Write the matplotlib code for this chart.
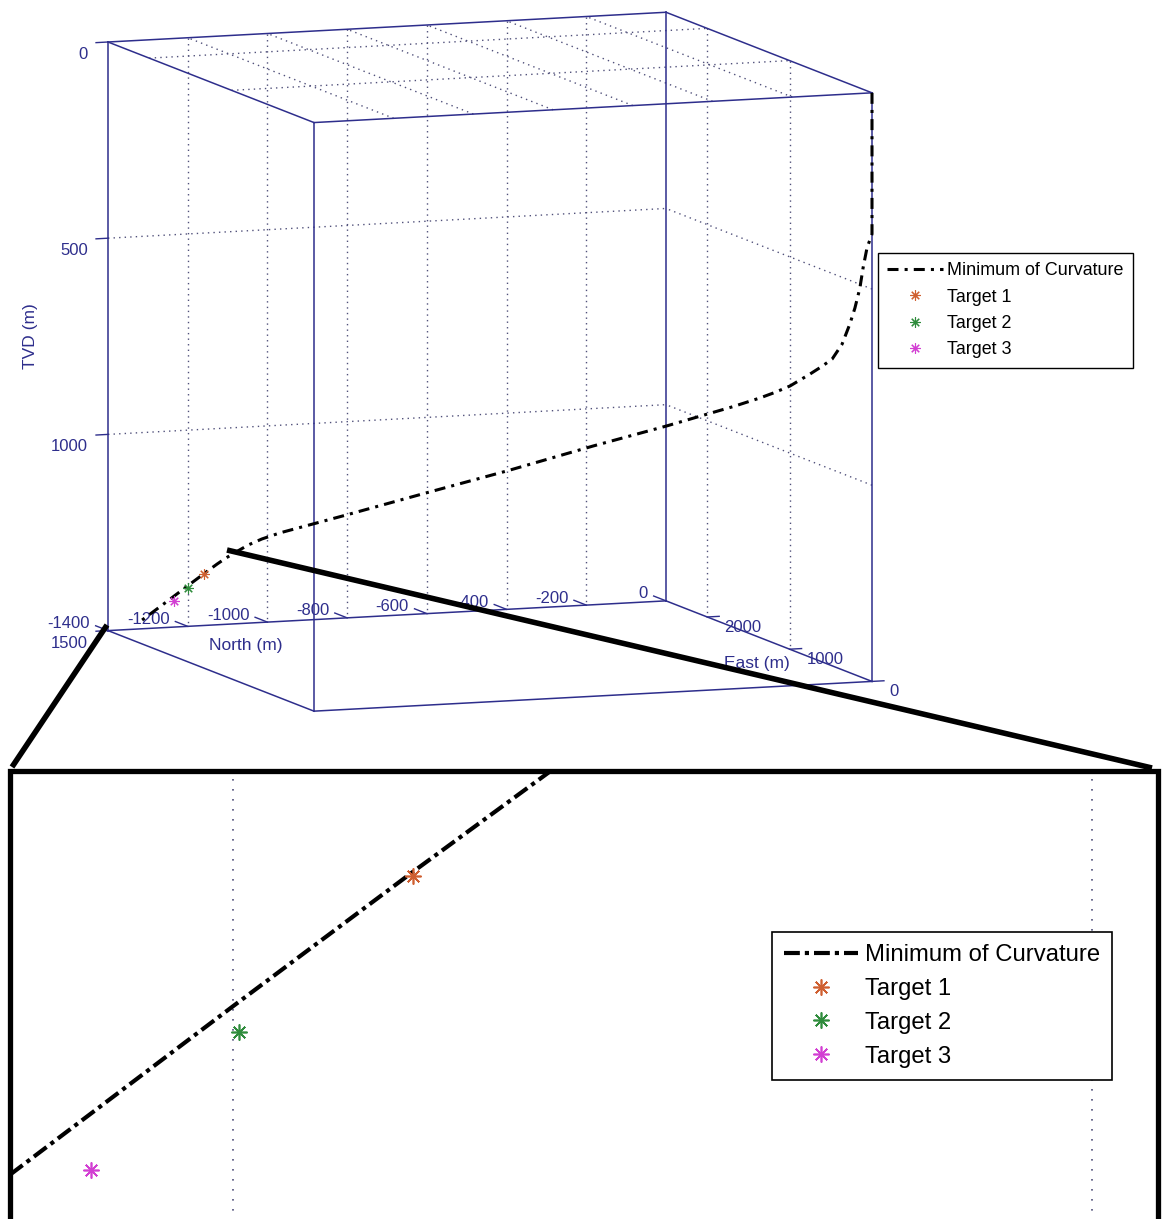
import numpy as np
import matplotlib
matplotlib.use("Agg")
import matplotlib.pyplot as plt
from matplotlib.lines import Line2D
from matplotlib.patches import Rectangle
from matplotlib.transforms import ScaledTranslation

plt.rcParams["font.family"] = ["Liberation Sans", "DejaVu Sans"]

# well path stations, metres
north = [0, 0, -9, -16, -22, -31, -40, -54, -72, -92, -112, -148, -175, -202, -251, -298,
         -370, -504, -659, -803, -948, -1068, -1101, -1126, -1148, -1166, -1182, -1205,
         -1235, -1272, -1303, -1325]
east = [0, 0, 17, 31, 41, 58, 75, 102, 136, 174, 211, 279, 330, 382, 473, 562,
        698, 950, 1243, 1516, 1788, 2016, 2078, 2125, 2166, 2200, 2230, 2273,
        2331, 2400, 2459, 2500]
tvd = [0, 360, 396, 448, 500, 552, 593, 646, 686, 708, 728, 762, 781, 798, 825, 849,
       886, 951, 1030, 1100, 1171, 1229, 1248, 1266, 1286, 1303, 1320, 1346,
       1381, 1424, 1460, 1485]

target_names = ["Target 1", "Target 2", "Target 3"]
target_north = [-1205, -1234, -1259]
target_east = [2273, 2329, 2375]
target_tvd = [1347, 1387, 1422]
target_colors = ["#cf5f30", "#2f8c3c", "#d23fd2"]

north_ticks = [-1400, -1200, -1000, -800, -600, -400, -200, 0]
east_ticks = [0, 1000, 2000]
tvd_ticks = [0, 500, 1000, 1500]
north_lim = (-1400, 0)
east_lim = (0, 2500)
tvd_lim = (0, 1500)

# figure layout, pixels from the top-left corner
FW, FH, DPI = 1162, 1219, 100
ELEV, AZIM = 8.3, -110.26
BOX_LEFT, BOX_TOP, BOX_RIGHT = 108, 42, 872
ZOOM = 10.77
INSET_ANCHOR = (413, 876)
INSET_BOX = (10, 771, 1158, 1221)
LEFT_CONNECTOR = ((107, 625), (12, 767))
RIGHT_CONNECTOR = ((227, 550), (1152, 768))
MAIN_LEGEND_AT = (878, 253)
INSET_LEGEND_AT = (772, 932)

AXIS_COLOR = "#2e2e8c"
GRID_COLOR = "#50507a"

fig = plt.figure(figsize=(FW / DPI, FH / DPI), dpi=DPI)


def fig_frac(x, y):
    return x / FW, 1 - y / FH


def shifted(ax, dx, dy):
    return ax.transData + ScaledTranslation(dx / DPI, dy / DPI, fig.dpi_scale_trans)


def new_3d_axes():
    ax = fig.add_axes([0, 0, 1, 1], projection="3d", proj_type="ortho")
    ax.set_box_aspect((1, 1, 1))
    ax.view_init(elev=ELEV, azim=AZIM)
    ax.set_axis_off()
    ax.set_facecolor("none")
    return ax


def unit_xy(ax, pts):
    # where 3-D points fall inside the square axes, 0..1 each way
    pts = np.asarray(pts, dtype=float)
    vec = np.vstack([pts.T, np.ones(len(pts))])
    w = ax.get_proj() @ vec
    X, Y = w[0] / w[3], w[1] / w[3]
    v = ax.viewLim
    return (X - v.x0) / v.width, (Y - v.y0) / v.height


def put_axes(ax, point, px, side):
    u, w = unit_xy(ax, [point])
    left = px[0] - u[0] * side
    bottom = (FH - px[1]) - w[0] * side
    ax.set_position([left / FW, bottom / FH, side / FW, side / FH])


def draw_grid(ax, lw, dots):
    n0, n1 = north_lim
    e0, e1 = east_lim
    t0, t1 = tvd_lim
    kw = dict(color=GRID_COLOR, lw=lw, ls=(0, dots), zorder=1)
    # floor sits at TVD 0 (top), walls at East max and North 0
    for n in north_ticks[1:-1]:
        ax.plot([n, n], [e0, e1], [t0, t0], **kw)
        ax.plot([n, n], [e1, e1], [t0, t1], **kw)
    for e in east_ticks[1:]:
        ax.plot([n0, n1], [e, e], [t0, t0], **kw)
        ax.plot([n1, n1], [e, e], [t0, t1], **kw)
    for t in tvd_ticks[1:-1]:
        ax.plot([n0, n1], [e1, e1], [t, t], **kw)
        ax.plot([n1, n1], [e0, e1], [t, t], **kw)


def draw_box(ax):
    n0, n1 = north_lim
    e0, e1 = east_lim
    t0, t1 = tvd_lim
    kw = dict(color=AXIS_COLOR, lw=1.1, zorder=2)
    for e in (e0, e1):
        for t in (t0, t1):
            ax.plot([n0, n1], [e, e], [t, t], **kw)
    for n in (n0, n1):
        for t in (t0, t1):
            ax.plot([n, n], [e0, e1], [t, t], **kw)
        for e in (e0, e1):
            ax.plot([n, n], [e, e], [t0, t1], **kw)


def draw_ticks(ax):
    n0, n1 = north_lim
    e0, e1 = east_lim
    t0, t1 = tvd_lim
    kw = dict(color=AXIS_COLOR, lw=1.0, zorder=2)
    tk = dict(color=AXIS_COLOR, fontsize=12)
    for n in north_ticks:
        ax.plot([n, n], [e1, e1 + 150], [t1, t1], **kw)
        ax.text(n, e1, t1, str(n), transform=shifted(ax, -18, 7),
                ha="right", va="center", **tk)
    for e in east_ticks:
        ax.plot([n1, n1 + 30], [e, e], [t1, t1], **kw)
        ax.text(n1, e, t1, str(e), transform=shifted(ax, 17, -10.5),
                ha="left", va="center", **tk)
    for t in tvd_ticks:
        ax.plot([n0 - 30, n0], [e1, e1], [t, t], **kw)
        ax.text(n0, e1, t, str(t), transform=shifted(ax, -20, -12.5),
                ha="right", va="center", **tk)

    lk = dict(color=AXIS_COLOR, fontsize=12.5, ha="center", va="center")
    ax.text(n0, e1, (t0 + t1) / 2, "TVD (m)", zdir="z", transform=shifted(ax, -78, 0), **lk)
    ax.text(-1050, e1, t1, "North (m)", transform=shifted(ax, -2, -22), **lk)
    ax.text(n1, 1400, t1, "East (m)", transform=shifted(ax, 0, -27), **lk)


def draw_well(ax, lw, dashes, ms, mew):
    well, = ax.plot(north, east, tvd, color="black", lw=lw, dashes=dashes,
                    zorder=3, label="Minimum of Curvature")
    handles = [well]
    for n, e, t, c, name in zip(target_north, target_east, target_tvd,
                                target_colors, target_names):
        m, = ax.plot([n], [e], [t], ls="none", marker=(8, 2, 0), ms=ms, mew=mew,
                     color=c, zorder=4, label=name)
        handles.append(m)
    return handles


# main 3-D view
ax = new_3d_axes()
draw_grid(ax, 1.0, (1, 3))
draw_box(ax)
draw_ticks(ax)
main_handles = draw_well(ax, 2.2, (3.6, 2.0, 1.0, 2.0), 7.5, 0.8)
ax.set_xlim(*north_lim)
ax.set_ylim(*east_lim)
ax.set_zlim(tvd_lim[1], tvd_lim[0])

corner_a = (north_lim[0], east_lim[1], tvd_lim[0])
corner_b = (north_lim[1], east_lim[0], tvd_lim[1])
u, _ = unit_xy(ax, [corner_a, corner_b])
side = (BOX_RIGHT - BOX_LEFT) / (u[1] - u[0])
put_axes(ax, corner_a, (BOX_LEFT, BOX_TOP), side)

# zoomed view around the targets
ax_in = new_3d_axes()
draw_grid(ax_in, 1.2, (1, 5))
inset_handles = draw_well(ax_in, 3.0, (3.8, 1.2, 1.0, 1.2), 11.5, 1.2)
c = (target_north[0], target_east[0], target_tvd[0])
hn = (north_lim[1] - north_lim[0]) / 2 / ZOOM
he = (east_lim[1] - east_lim[0]) / 2 / ZOOM
ht = (tvd_lim[1] - tvd_lim[0]) / 2 / ZOOM
ax_in.set_xlim(c[0] - hn, c[0] + hn)
ax_in.set_ylim(c[1] - he, c[1] + he)
ax_in.set_zlim(c[2] + ht, c[2] - ht)
put_axes(ax_in, c, INSET_ANCHOR, side)

x0, y0 = fig_frac(INSET_BOX[0], INSET_BOX[3])
x1, y1 = fig_frac(INSET_BOX[2], INSET_BOX[1])
clip = Rectangle((x0, y0), x1 - x0, y1 - y0, transform=fig.transFigure)
for ln in ax_in.lines:
    ln.set_clip_path(clip)

frame = Rectangle((x0, y0), x1 - x0, y1 - y0, transform=fig.transFigure,
                  fill=False, edgecolor="black", lw=3.8, zorder=6)
fig.add_artist(frame)
for (xa, ya), (xb, yb) in (LEFT_CONNECTOR, RIGHT_CONNECTOR):
    pa, pb = fig_frac(xa, ya), fig_frac(xb, yb)
    fig.add_artist(Line2D([pa[0], pb[0]], [pa[1], pb[1]], transform=fig.transFigure,
                          color="black", lw=4.0, solid_capstyle="butt", zorder=6))

labels = ["Minimum of Curvature"] + target_names
leg = fig.legend(main_handles, labels, loc="upper left",
                 bbox_to_anchor=fig_frac(*MAIN_LEGEND_AT), borderaxespad=0,
                 fontsize=12.9, fancybox=False, edgecolor="black", framealpha=1,
                 borderpad=0.52, labelspacing=0.52, handlelength=3.1,
                 handletextpad=0.23)
leg.get_frame().set_linewidth(1.0)

leg_in = fig.legend(inset_handles, labels, loc="upper left",
                    bbox_to_anchor=fig_frac(*INSET_LEGEND_AT), borderaxespad=0,
                    fontsize=17.2, fancybox=False, edgecolor="black", framealpha=1,
                    borderpad=0.5, labelspacing=0.5, handlelength=3.1,
                    handletextpad=0.3)
leg_in.get_frame().set_linewidth(1.2)

fig.savefig("out.png", dpi=DPI, facecolor="white")
